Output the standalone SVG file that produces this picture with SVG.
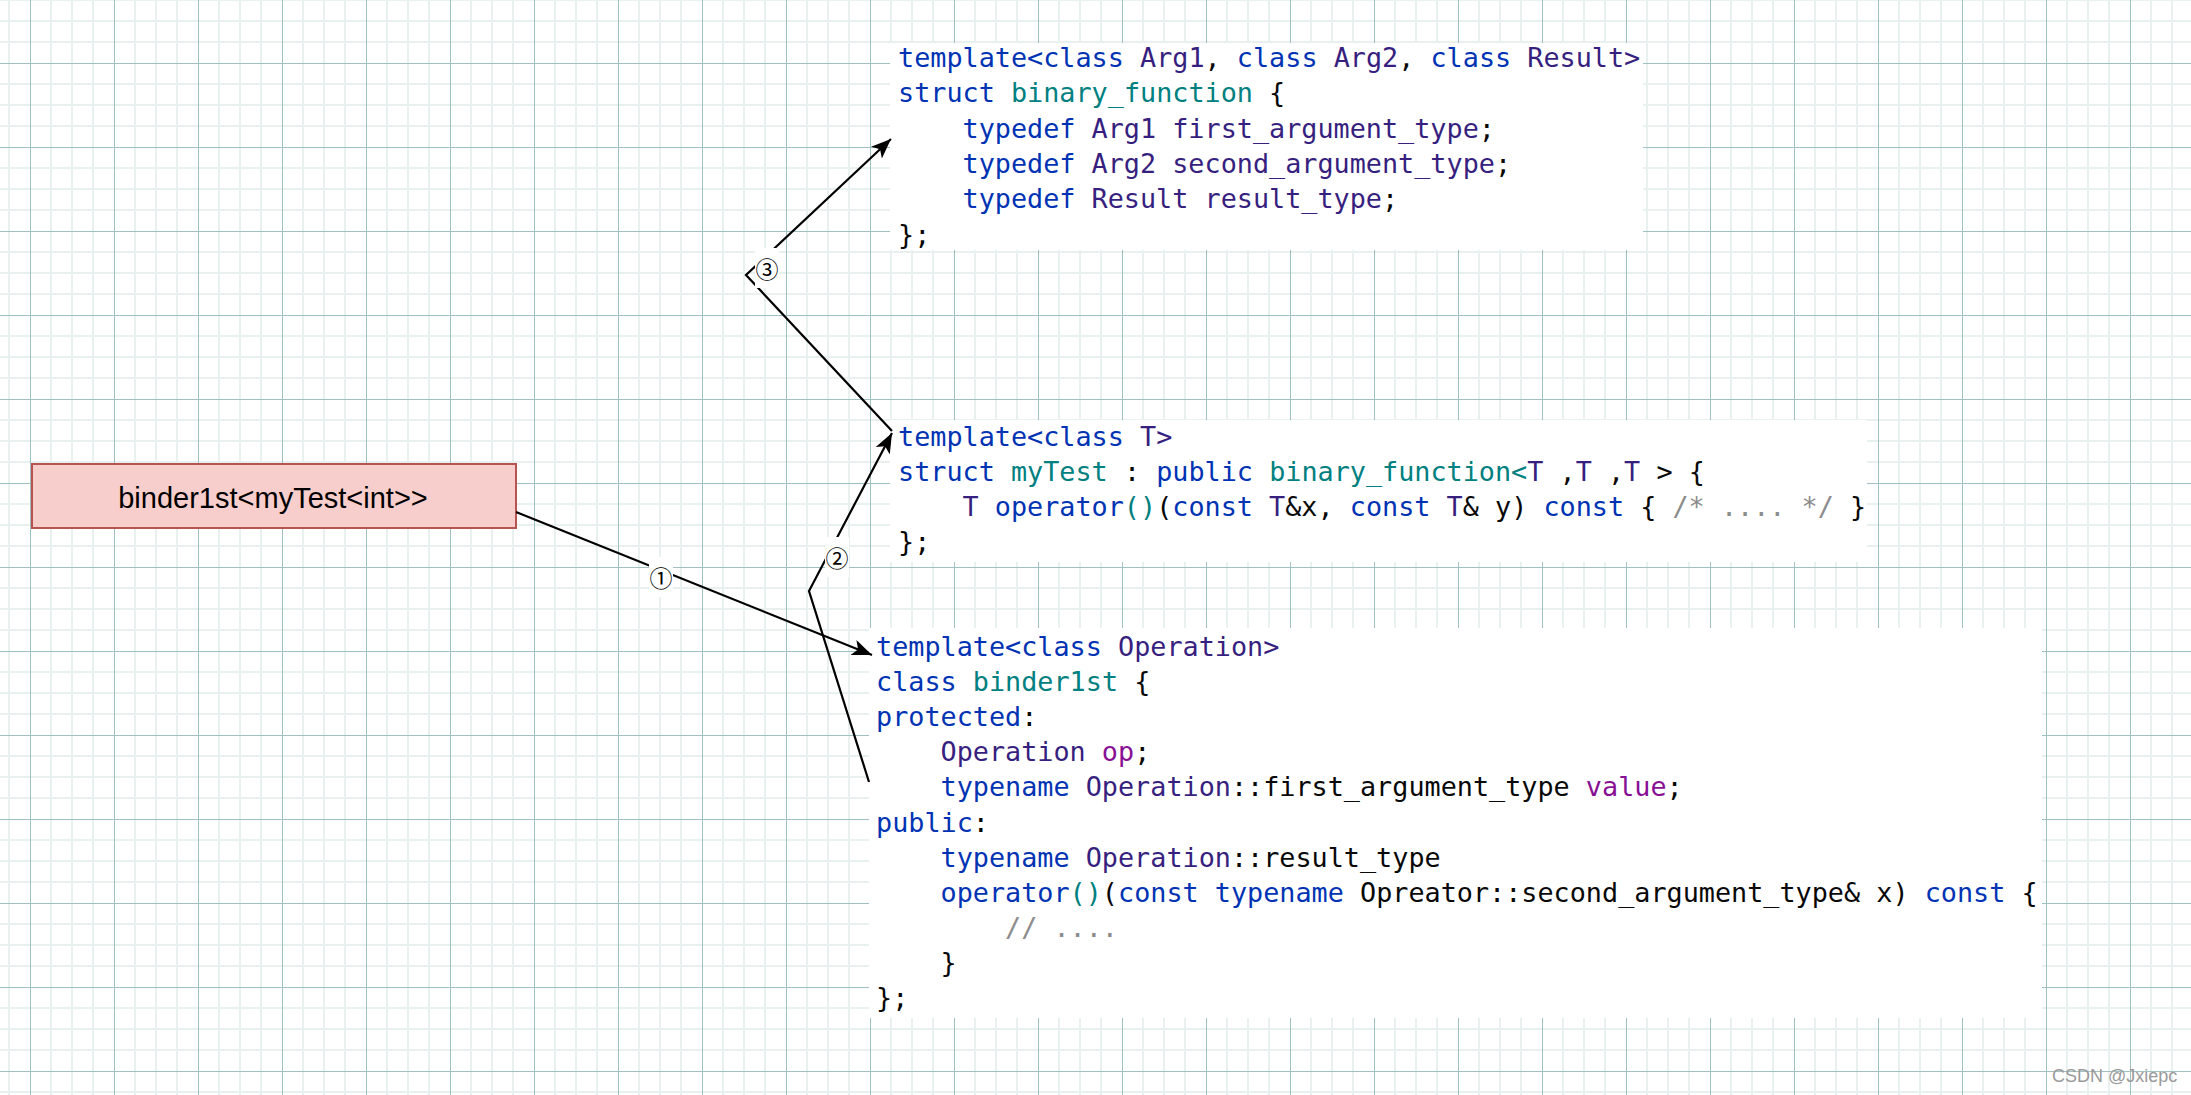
<svg xmlns="http://www.w3.org/2000/svg" width="2191" height="1095" viewBox="0 0 2191 1095">
<defs>
<style>
.code{font-family:"DejaVu Sans Mono","Liberation Mono",monospace;font-size:26.8px;fill:#080808;white-space:pre}
.k{fill:#0033b3}
.t{fill:#371f80}
.c{fill:#008080}
.f{fill:#871094}
.m{fill:#8c8c8c}
.bg{fill:#ffffff}
.conn{fill:none;stroke:#000;stroke-width:2.2;marker-end:url(#arrow)}
.lbl{font-family:"Noto Sans CJK SC","DejaVu Sans",sans-serif;font-size:23px;fill:#000;text-anchor:middle;dominant-baseline:central}
</style>
<pattern id="grid" width="84" height="84" patternUnits="userSpaceOnUse" x="30" y="63">
<path d="M21 0V84M42 0V84M63 0V84M0 21H84M0 42H84M0 63H84" stroke="#e9f0f0" stroke-width="2" fill="none"/>
<path d="M0.5 0V84M0 0.5H84" stroke="#a0c1c1" stroke-width="1" fill="none"/>
</pattern>
<marker id="arrow" markerWidth="22" markerHeight="18" refX="20" refY="8" orient="auto" markerUnits="userSpaceOnUse">
<path d="M0,0 L20,8 L0,16 L5,8 Z" fill="#000"/>
</marker>
</defs>
<rect x="0" y="0" width="2191" height="1095" fill="#ffffff"/>
<rect x="0" y="0" width="2191" height="1095" fill="url(#grid)"/>

<g id="node-binder1st-instance">
<rect x="32" y="464" width="484" height="64" fill="#f8cecc" stroke="#b85450" stroke-width="2"/>
<text x="273" y="508" font-family="Liberation Sans, Arial, sans-serif" font-size="29" text-anchor="middle" fill="#000">binder1st&lt;myTest&lt;int&gt;&gt;</text>
</g>

<g id="node-binary-function">
<rect class="bg" x="890" y="43" width="753" height="207"/>
<text class="code" xml:space="preserve" x="898" y="67"><tspan class="k">template&lt;class</tspan> <tspan class="t">Arg1</tspan>, <tspan class="k">class</tspan> <tspan class="t">Arg2</tspan>, <tspan class="k">class</tspan> <tspan class="t">Result&gt;</tspan></text>
<text class="code" xml:space="preserve" x="898" y="102.3"><tspan class="k">struct</tspan> <tspan class="c">binary_function</tspan> {</text>
<text class="code" xml:space="preserve" x="962.5" y="137.6"><tspan class="k">typedef</tspan><tspan class="t"> Arg1 first_argument_type</tspan>;</text>
<text class="code" xml:space="preserve" x="962.5" y="172.9"><tspan class="k">typedef</tspan><tspan class="t"> Arg2 second_argument_type</tspan>;</text>
<text class="code" xml:space="preserve" x="962.5" y="208.2"><tspan class="k">typedef</tspan><tspan class="t"> Result result_type</tspan>;</text>
<text class="code" xml:space="preserve" x="898" y="243.5">};</text>
</g>

<g id="node-mytest">
<rect class="bg" x="890" y="420" width="977" height="142"/>
<text class="code" xml:space="preserve" x="898" y="446"><tspan class="k">template&lt;class</tspan><tspan class="t"> T&gt;</tspan></text>
<text class="code" xml:space="preserve" x="898" y="481"><tspan class="k">struct</tspan> <tspan class="c">myTest</tspan> : <tspan class="k">public</tspan> <tspan class="c">binary_function&lt;</tspan><tspan class="t">T</tspan> ,<tspan class="t">T</tspan> ,<tspan class="t">T</tspan> &gt; {</text>
<text class="code" xml:space="preserve" x="962.5" y="516"><tspan class="t">T</tspan> <tspan class="k">operator</tspan><tspan class="c">()</tspan>(<tspan class="k">const</tspan> <tspan class="t">T</tspan>&amp;x, <tspan class="k">const</tspan> <tspan class="t">T</tspan>&amp; y) <tspan class="k">const</tspan> { <tspan class="m">/* .... */</tspan> }</text>
<text class="code" xml:space="preserve" x="898" y="551">};</text>
</g>

<g id="node-binder1st-class">
<rect class="bg" x="869" y="628" width="1173" height="390"/>
<text class="code" xml:space="preserve" x="876" y="656"><tspan class="k">template&lt;class</tspan><tspan class="t"> Operation&gt;</tspan></text>
<text class="code" xml:space="preserve" x="876" y="691.1"><tspan class="k">class</tspan> <tspan class="c">binder1st</tspan> {</text>
<text class="code" xml:space="preserve" x="876" y="726.2"><tspan class="k">protected</tspan>:</text>
<text class="code" xml:space="preserve" x="940.5" y="761.3"><tspan class="t">Operation</tspan> <tspan class="f">op</tspan>;</text>
<text class="code" xml:space="preserve" x="940.5" y="796.4"><tspan class="k">typename</tspan> <tspan class="t">Operation</tspan>::first_argument_type <tspan class="f">value</tspan>;</text>
<text class="code" xml:space="preserve" x="876" y="831.5"><tspan class="k">public</tspan>:</text>
<text class="code" xml:space="preserve" x="940.5" y="866.6"><tspan class="k">typename</tspan> <tspan class="t">Operation</tspan>::result_type</text>
<text class="code" xml:space="preserve" x="940.5" y="901.7"><tspan class="k">operator</tspan><tspan class="c">()</tspan>(<tspan class="k">const typename</tspan> Opreator::second_argument_type&amp; x) <tspan class="k">const</tspan> {</text>
<text class="code m" xml:space="preserve" x="1005" y="936.8">// ....</text>
<text class="code" xml:space="preserve" x="940.5" y="971.9">}</text>
<text class="code" xml:space="preserve" x="876" y="1007">};</text>
</g>

<g id="connectors">
<path class="conn" d="M516 512 L872 655"/>
<path class="conn" d="M869 782 L809 591 L892 433"/>
<path class="conn" d="M892 431 L746 275 L891 139"/>
<rect class="bg" x="649" y="557" width="24" height="40"/>
<text class="lbl" x="661" y="577">①</text>
<rect class="bg" x="825" y="537" width="24" height="40"/>
<text class="lbl" x="837" y="557">②</text>
<rect class="bg" x="755" y="248" width="24" height="40"/>
<text class="lbl" x="767" y="268">③</text>
</g>

<text x="2052" y="1082" font-family="Liberation Sans, Arial, sans-serif" font-size="18" fill="#9a9a9a">CSDN @Jxiepc</text>
</svg>
